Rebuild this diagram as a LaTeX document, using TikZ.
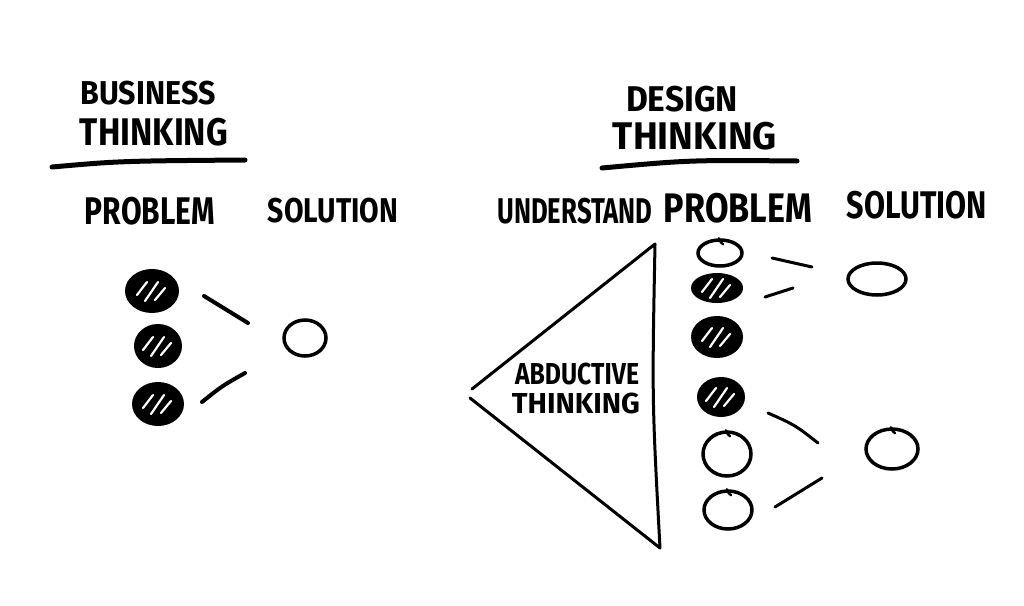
\documentclass[tikz,border=0pt]{standalone}
\usepackage{fontspec}
\setmainfont{Fira Sans}
\usetikzlibrary{shapes.geometric}
\newcommand{\hw}[3]{\resizebox*{#1pt}{#2pt}{\bfseries #3}}
\newcommand{\hatch}[1]{%
  \draw[hatchline] ([shift={(-15,4)}]#1.center) -- ([shift={(-5,-9)}]#1.center);
  \draw[hatchline] ([shift={(-7,10)}]#1.center) -- ([shift={(6,-9)}]#1.center);
  \draw[hatchline] ([shift={(3,9)}]#1.center) -- ([shift={(13,-3)}]#1.center);}
\newcommand{\curl}[1]{%
  \draw[line width=2.4pt, line cap=round] ([shift={(-1,0)}]#1.north) .. controls +(1,3) and +(-2,-1) .. +(4,6);}
\begin{document}
\begin{tikzpicture}[x=1pt,y=-1pt,
  ink/.style={line width=4pt, line cap=round, line join=round, black},
  uline/.style={line width=5pt, line cap=round, black},
  txt/.style={inner sep=0pt, anchor=center},
  dark/.style={ellipse, fill=black, draw=black, line width=2pt, inner sep=0pt},
  open/.style={ellipse, draw=black, line width=3.5pt, inner sep=0pt},
  hatchline/.style={white, line width=2.2pt, line cap=round}]
\useasboundingbox (0,0) rectangle (1024,605);

% ---------- Business thinking ----------
\node[txt] (bt1) at (148,93) {\hw{135}{24}{BUSINESS}};
\node[txt] (bt2) at (154,132) {\hw{148}{28}{THINKING}};
\coordinate (bu1) at (52,167);
\coordinate (bu2) at (245,160);
\draw[uline] (bu1) .. controls (120,161) .. (bu2);
\node[txt] (bprob) at (150,211) {\hw{130}{28}{PROBLEM}};
\node[txt] (bsol) at (333,211) {\hw{130}{25}{SOLUTION}};

\node[dark, minimum width=52pt, minimum height=42pt] (b1) at (152,291) {};
\node[dark, minimum width=46pt, minimum height=42pt] (b2) at (158,346) {};
\node[dark, minimum width=50pt, minimum height=42pt] (b3) at (158,404) {};
\hatch{b1}\hatch{b2}\hatch{b3}
\node[open, minimum width=42pt, minimum height=36pt] (bs) at (305,338) {};

\coordinate (bl1a) at (204,296); \coordinate (bl1b) at (248,323);
\coordinate (bl2a) at (202,402); \coordinate (bl2b) at (245,373);
\draw[ink] (bl1a) -- (bl1b);
\draw[ink] (bl2a) .. controls (222,386) .. (bl2b);

% ---------- Design thinking ----------
\node[txt] (dt1) at (682,99) {\hw{112}{26}{DESIGN}};
\node[txt] (dt2) at (695,136) {\hw{164}{28}{THINKING}};
\coordinate (du1) at (602,168);
\coordinate (du2) at (797,161);
\draw[uline] (du1) .. controls (690,160) .. (du2);
\node[txt] (dund) at (575,211) {\hw{155}{26}{UNDERSTAND}};
\node[txt] (dprob) at (738,208) {\hw{148}{30}{PROBLEM}};
\node[txt] (dsol) at (917,205) {\hw{140}{28}{SOLUTION}};

% triangle
\coordinate (tl1) at (472,389);
\coordinate (tt) at (655,244);
\coordinate (tb) at (660,548);
\coordinate (tl2) at (470,398);
\draw[ink, line width=3pt] (tl1) -- (tt) .. controls (652,400) .. (tb) -- (tl2);
\node[txt] (ab1) at (577,374) {\hw{124}{22}{ABDUCTIVE}};
\node[txt] (ab2) at (576,403) {\hw{128}{21}{THINKING}};

% problem column
\node[open, minimum width=44pt, minimum height=26pt] (c1) at (720,253) {};
\node[dark, minimum width=50pt, minimum height=28pt] (c2) at (717,288) {};
\node[dark, minimum width=50pt, minimum height=40pt] (c3) at (717,337) {};
\node[dark, minimum width=46pt, minimum height=38pt] (c4) at (721,397) {};
\node[open, minimum width=48pt, minimum height=44pt] (c5) at (727,454) {};
\node[open, minimum width=48pt, minimum height=38pt] (c6) at (728,510) {};
\hatch{c2}\hatch{c3}\hatch{c4}
\curl{c1}\curl{c5}\curl{c6}

% solutions
\node[open, minimum width=58pt, minimum height=32pt] (s1) at (877,279) {};
\node[open, minimum width=52pt, minimum height=40pt] (s2) at (892,449) {};
\curl{s2}

% connector strokes
\coordinate (l1a) at (772,258); \coordinate (l1b) at (812,267);
\coordinate (l2a) at (765,297); \coordinate (l2b) at (793,288);
\coordinate (l3a) at (768,413); \coordinate (l3b) at (818,443);
\coordinate (l4a) at (775,507); \coordinate (l4b) at (822,478);
\draw[ink, line width=3pt] (l1a) -- (l1b);
\draw[ink, line width=3pt] (l2a) -- (l2b);
\draw[ink, line width=3pt] (l3a) .. controls (795,425) .. (l3b);
\draw[ink, line width=3pt] (l4a) -- (l4b);
\end{tikzpicture}
\end{document}
